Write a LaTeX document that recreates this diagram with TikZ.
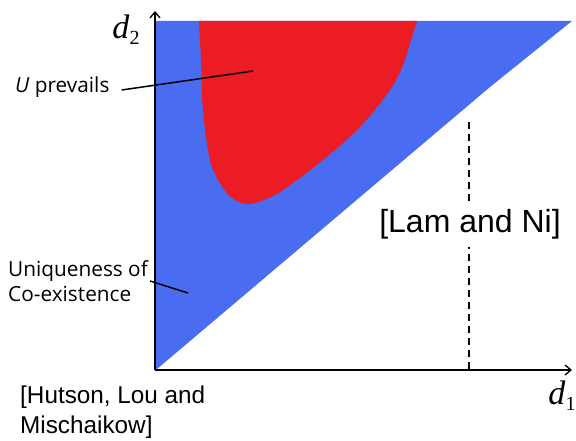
\documentclass[tikz,border=0pt]{standalone}
\usepackage{fontspec}
\setmainfont{Liberation Sans}
\newfontfamily\osans{Open Sans}
\newfontfamily\tserif{Liberation Serif}
\definecolor{blueR}{RGB}{74,108,240}
\definecolor{redR}{RGB}{236,28,36}
\tikzset{
  axisline/.style={line width=1.3pt,-{Straight Barb[length=6pt,width=10pt]}},
  leader/.style={line width=1.5pt},
  label/.style={font=\osans\fontsize{20.8}{25}\selectfont, inner sep=0pt, align=left},
  cite/.style={font=\fontsize{24.3}{30}\selectfont, inner sep=0pt, align=left},
  axlab/.style={font=\tserif\fontsize{34}{34}\selectfont, inner sep=0pt}
}
\usetikzlibrary{arrows.meta}
\begin{document}
\begin{tikzpicture}[x=1pt,y=-1pt]
\useasboundingbox (0,0) rectangle (576,441);
\fill[white] (0,0) rectangle (576,441);
% blue region
\fill[blueR] (155,21) -- (572,21) -- (490,87) -- (157,369) -- (155,369) -- cycle;
% red region
\fill[redR] plot[smooth, tension=0.6] coordinates {(199,21) (201,60) (203,110) (210,160) (220,183) (232,198) (250,204) (275,195) (293,183) (323,160) (360,127) (390,90) (403,65) (411,40) (417,21)} -- cycle;
% axes
\coordinate (O) at (155,370);
\coordinate (ytop) at (155,11);
\coordinate (xend) at (572,370);
\draw[axisline] (O) -- (ytop);
\draw[axisline] (O) -- (xend);
\node[axlab] (d2) at (126,30) {\textit{d}\raisebox{-6pt}{\fontsize{20}{20}\selectfont 2}};
\node[axlab] (d1) at (562,396) {\textit{d}\raisebox{-6pt}{\fontsize{20}{20}\selectfont 1}};
% dashed line
\coordinate (dtop) at (469,122);
\coordinate (dbot) at (469,370);
\draw[dashed, line width=1.2pt, dash pattern=on 7pt off 5pt] (dtop) -- (dbot);
% labels
\node[label, anchor=west] (up) at (15,87) {\textit{U} prevails};
\coordinate (upt) at (253,71);
\draw[leader] ([shift={(12,3)}]up.east) -- (upt);
\node[label, anchor=west] (uc) at (8,281) {Uniqueness of\\Co-existence};
\coordinate (uct) at (188,293);
\draw[leader] ([shift={(2,0)}]uc.east) -- (uct);
\node[cite, anchor=west] (hlm) at (20,412) {[Hutson, Lou and\\Mischaikow]};
\node[cite, anchor=center, fill=white, inner xsep=2pt, inner ysep=8pt, font=\fontsize{32}{36}\selectfont] (ln) at (470,224) {[Lam and Ni]};
\end{tikzpicture}
\end{document}
